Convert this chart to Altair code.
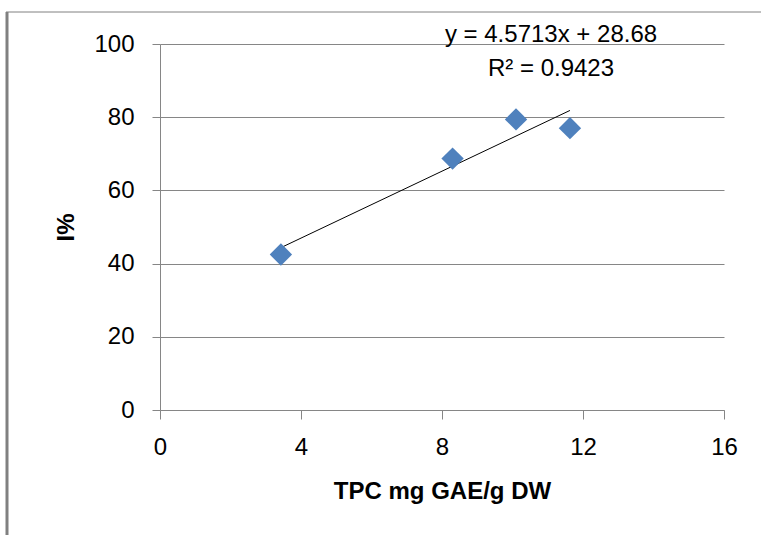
import altair as alt
import pandas as pd

# Data
tpc = [3.43, 8.3, 10.1, 11.63]          # TPC mg GAE/g DW
inhibition = [42.5, 68.7, 79.4, 77.0]   # I %
slope = 4.5713
intercept = 28.68
r2 = 0.9423
x_ticks = [0, 4, 8, 12, 16]
y_ticks = [0, 20, 40, 60, 80, 100]

FONT = "Liberation Sans"
GRID = "#868686"

pts = pd.DataFrame({"tpc": tpc, "inh": inhibition})
tx = [min(tpc), max(tpc)]
trend = pd.DataFrame({"tpc": tx, "inh": [slope * v + intercept for v in tx]})
one = pd.DataFrame({"a": [0]})

W, H = 564, 366
PAD_L, PAD_T = 160, 44

xs = alt.Scale(domain=[0, 16], nice=False, zero=False)
ys = alt.Scale(domain=[0, 100], nice=False, zero=False)

points = alt.Chart(pts).mark_point(
    shape="diamond", filled=True, size=500, color="#4F81BD", opacity=1
).encode(
    x=alt.X("tpc:Q", scale=xs, axis=alt.Axis(
        values=x_ticks, grid=False, domain=True, domainColor=GRID, domainWidth=1,
        ticks=True, tickColor=GRID, tickSize=9, labelFontSize=24, labelFont=FONT,
        labelColor="#000000", labelPadding=16, labelFlush=False, title="TPC mg GAE/g DW",
        titleFont=FONT, titleFontSize=24, titleFontWeight="bold", titleColor="#000000",
        titleBaseline="alphabetic", titleY=88, titleX=W / 2, titleAnchor="middle",
    )),
    y=alt.Y("inh:Q", scale=ys, axis=alt.Axis(
        values=y_ticks, grid=True, gridColor=GRID, gridWidth=1, domain=True,
        domainColor=GRID, domainWidth=1, ticks=True, tickColor=GRID, tickSize=8,
        labelFontSize=24, labelFont=FONT, labelColor="#000000", labelPadding=18,
        labelFlush=False,
        title="I%", titleFont=FONT, titleFontSize=24, titleFontWeight="bold",
        titleColor="#000000", titleAngle=270, titleBaseline="alphabetic",
        titleX=-87, titleY=H / 2, titleAlign="center",
    )),
)

line = alt.Chart(trend).mark_line(color="#000000", strokeWidth=1).encode(
    x=alt.X("tpc:Q", scale=xs), y=alt.Y("inh:Q", scale=ys)
)

eq1 = alt.Chart(one).mark_text(
    text=f"y = {slope}x + {intercept}", font=FONT, fontSize=24, color="#000000",
    align="center", baseline="middle"
).encode(x=alt.value(391), y=alt.value(-9))

eq2 = alt.Chart(one).mark_text(
    text=f"R\u00b2 = {r2}", font=FONT, fontSize=24, color="#000000",
    align="center", baseline="middle"
).encode(x=alt.value(391), y=alt.value(25))

border_left = alt.Chart(one).mark_rule(color="#808080", strokeWidth=3).encode(
    x=alt.value(7 - PAD_L), y=alt.value(12 - PAD_T), y2=alt.value(535 - PAD_T)
)
border_top = alt.Chart(one).mark_rule(color="#808080", strokeWidth=1).encode(
    x=alt.value(6 - PAD_L), x2=alt.value(761 - PAD_L), y=alt.value(12 - PAD_T)
)

chart = alt.layer(border_left, border_top, line, points, eq1, eq2).properties(
    width=W, height=H,
    autosize=alt.AutoSizeParams(type="none"),
    padding={"left": PAD_L, "top": PAD_T, "right": 761 - PAD_L - W, "bottom": 535 - PAD_T - H},
    background="#ffffff",
).configure_view(stroke=None)

chart.save("out.html", embed_options={"renderer": "svg", "actions": False})
